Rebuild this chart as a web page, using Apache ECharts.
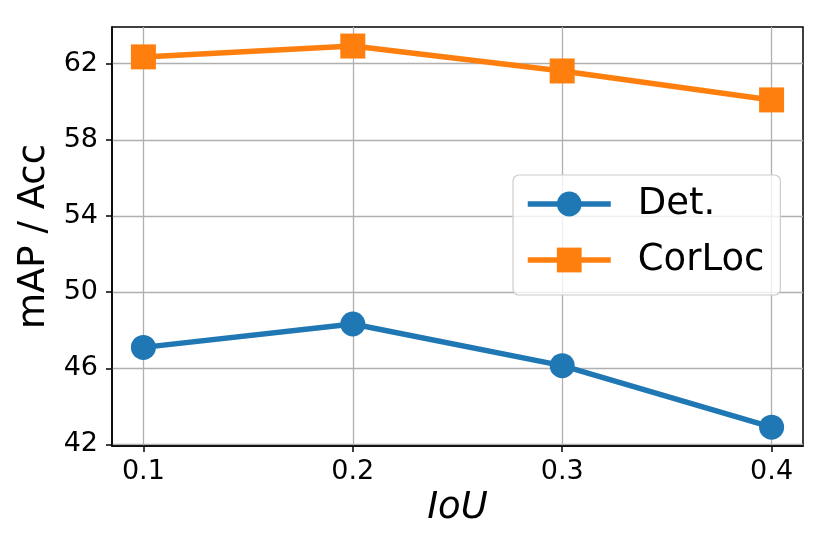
<!DOCTYPE html>
<html>
<head>
<meta charset="utf-8">
<script src="https://cdn.jsdelivr.net/npm/echarts@6/dist/echarts.min.js"></script>
<style>
html, body { margin: 0; padding: 0; background: #fff; }
#chart { width: 830px; height: 554px; }
</style>
</head>
<body>
<div id="chart"></div>
<script>
// IoU thresholds and the two curves
var iou = [0.1, 0.2, 0.3, 0.4];
var det = [47.1, 48.33, 46.14, 42.91];
var corloc = [62.36, 62.93, 61.62, 60.1];
var xTicks = [0.1, 0.2, 0.3, 0.4];
var yTicks = [42, 46, 50, 54, 58, 62];

var FONT = 'DejaVu Sans';
var myChart = echarts.init(document.getElementById('chart'));

function pairs(xs, ys) {
    return xs.map(function (x, i) { return [x, ys[i]]; });
}

myChart.setOption({
    animation: false,
    backgroundColor: '#fff',
    grid: {
        left: 112, right: 27, top: 27, bottom: 108,
        show: true,
        borderColor: '#000',
        borderWidth: 1.5
    },
    legend: {
        left: 513,
        top: 175,
        orient: 'vertical',
        itemWidth: 83,
        itemHeight: 31,
        itemGap: 16,
        padding: [9, 16, 15, 12],
        backgroundColor: 'rgba(255,255,255,0.8)',
        borderColor: '#cccccc',
        borderWidth: 1.2,
        borderRadius: 6,
        lineStyle: { width: 5.5 },
        textStyle: {
            fontFamily: FONT,
            fontSize: 37,
            lineHeight: 40,
            color: '#000',
            padding: [0, 0, 0, 22]
        },
        data: ['Det.', 'CorLoc']
    },
    xAxis: {
        type: 'value',
        min: 0.085,
        max: 0.415,
        name: 'IoU',
        nameLocation: 'middle',
        nameGap: 40,
        nameTextStyle: { fontFamily: FONT, fontSize: 37, fontStyle: 'italic', color: '#000' },
        axisLine: { show: true, lineStyle: { color: '#000', width: 1.5 } },
        axisTick: { show: true, length: 6, customValues: xTicks, lineStyle: { color: '#000', width: 1.5 } },
        axisLabel: {
            customValues: xTicks,
            margin: 12,
            fontFamily: FONT, fontSize: 27, color: '#000',
            formatter: function (v) { return v.toFixed(1); }
        },
        splitLine: { show: true, lineStyle: { color: '#b0b0b0', width: 1.3 } }
    },
    yAxis: {
        type: 'value',
        min: 41.92,
        max: 63.93,
        name: 'mAP / Acc',
        nameLocation: 'middle',
        nameGap: 54,
        nameTextStyle: { fontFamily: FONT, fontSize: 37, color: '#000' },
        axisLine: { show: true, lineStyle: { color: '#000', width: 1.5 } },
        axisTick: { show: true, length: 6, customValues: yTicks, lineStyle: { color: '#000', width: 1.5 } },
        axisLabel: {
            customValues: yTicks,
            margin: 14,
            fontFamily: FONT, fontSize: 27, color: '#000'
        },
        splitLine: { show: true, lineStyle: { color: '#b0b0b0', width: 1.3 } }
    },
    series: [{
        name: 'Det.',
        type: 'line',
        data: pairs(iou, det),
        symbol: 'circle',
        symbolSize: 25,
        color: '#1f77b4',
        lineStyle: { width: 5.5, color: '#1f77b4' },
        itemStyle: { color: '#1f77b4', opacity: 1 }
    }, {
        name: 'CorLoc',
        type: 'line',
        data: pairs(iou, corloc),
        symbol: 'rect',
        symbolSize: 25,
        color: '#ff7f0e',
        lineStyle: { width: 5.5, color: '#ff7f0e' },
        itemStyle: { color: '#ff7f0e', opacity: 1 }
    }]
});
</script>
</body>
</html>
